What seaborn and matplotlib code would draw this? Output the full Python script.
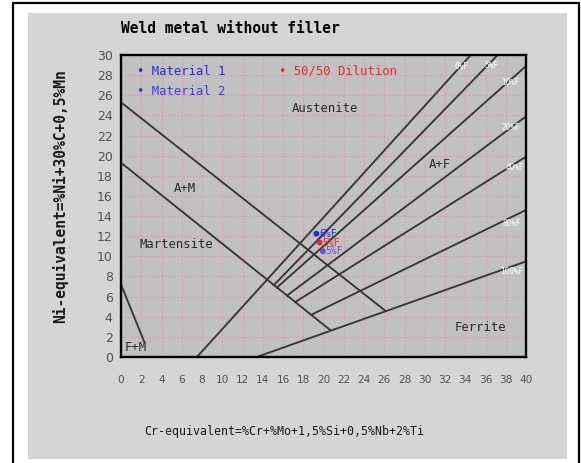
import numpy as np
import pandas as pd
import seaborn as sns
import matplotlib
matplotlib.use("Agg")
import matplotlib.pyplot as plt
from matplotlib.patches import Rectangle

# Schaeffler diagram boundaries: start / end in (Cr-eq, Ni-eq)
line_names = ["A/A+M", "A+M/M", "M/F+M", "0%F", "5%F", "10%F", "20%F", "40%F", "80%F", "100%F"]
cr_start = [0, 0, 0, 7.5, 15.1, 15.4, 16.4, 17.2, 18.8, 13.4]
ni_start = [25.3, 19.3, 7.2, 0, 7.15, 6.9, 6.1, 5.45, 4.2, 0]
cr_end = [26.1, 20.7, 2.3, 34.55, 37.2, 40, 40, 40, 40, 40]
ni_end = [4.6, 2.65, 1.5, 30, 30, 28.9, 23.9, 19.9, 14.6, 9.5]

# ferrite % labels at the upper ends of the fan lines
pct_labels = ["0%F", "5%F", "10%F", "20%F", "40%F", "80%F", "100%F"]
pct_x = [33.6, 36.6, 38.5, 38.5, 38.9, 38.6, 38.6]
pct_y = [28.9, 29.0, 27.3, 22.8, 18.8, 13.3, 8.5]

region_names = ["Austenite", "A+M", "Martensite", "A+F", "Ferrite", "F+M"]
region_x = [20.1, 6.3, 5.5, 31.5, 35.5, 1.5]
region_y = [24.7, 16.7, 11.2, 19.1, 2.9, 0.9]

# base materials and the 50/50 dilution
point_names = ["Material 1", "Material 2", "50/50 Dilution"]
point_cr = [19.3, 19.95, 19.63]
point_ni = [12.25, 10.5, 11.37]
point_ferrite = ["6%F", "5%F", "5%F"]
point_colors = ["#2a2ae0", "#6a4ee6", "#e62a2a"]
legend_colors = ["#2a2ae0", "#3c3ce4", "#e62a2a"]
legend_x = [1.6, 1.6, 15.6]
legend_y = [28.4, 26.4, 28.4]

x_ticks = list(range(0, 41, 2))
y_ticks = list(range(0, 31, 2))

W, H = 581, 463
fig = plt.figure(figsize=(W / 100, H / 100), dpi=100)
fig.patch.set_facecolor("white")

# outer frame and grey panel, kept behind the axes
fig.patches.append(Rectangle((13 / W, 1 - 475 / H), 566 / W, 472 / H, transform=fig.transFigure,
                             fill=False, edgecolor="black", linewidth=1.6, zorder=-10))
fig.patches.append(Rectangle((28 / W, 1 - 459 / H), 539 / W, 446 / H, transform=fig.transFigure,
                             facecolor="#d5d5d5", edgecolor="none", zorder=-10))

ax = fig.add_axes([121 / W, 1 - 357 / H, 405 / W, 302 / H])
ax.set_facecolor("#c1c1c1")

lines_df = pd.DataFrame({
    "line": line_names * 2,
    "cr": cr_start + cr_end,
    "ni": ni_start + ni_end,
})
sns.lineplot(data=lines_df, x="cr", y="ni", units="line", estimator=None, sort=False,
             color="#363636", linewidth=1.35, ax=ax)

pts_df = pd.DataFrame({"name": point_names, "cr": point_cr, "ni": point_ni})
sns.scatterplot(data=pts_df, x="cr", y="ni", hue="name", palette=point_colors,
                s=18, edgecolor="none", legend=False, ax=ax, zorder=5)

mono = "DejaVu Sans Mono"
for name, x, y, c in zip(point_names, legend_x, legend_y, legend_colors):
    ax.text(x, y, "\u2022 " + name, color=c, fontsize=8.8, family=mono, va="center", ha="left")
for lab, x, y, c in zip(point_ferrite, point_cr, point_ni, point_colors):
    ax.text(x + 0.25, y, lab, color=c, fontsize=7, family=mono, va="center", ha="left", zorder=6)
for name, x, y in zip(region_names, region_x, region_y):
    ax.text(x, y, name, color="#2a2a2a", fontsize=8.8, family=mono, va="center", ha="center")
for lab, x, y in zip(pct_labels, pct_x, pct_y):
    ax.text(x, y, lab, color="white", fontsize=5.5, family=mono, va="center", ha="center")

ax.set_xlim(0, 40)
ax.set_ylim(0, 30)
ax.set_xticks(x_ticks)
ax.set_yticks(y_ticks)
ax.grid(True, color="#e59a9a", linestyle=(0, (1, 1.5)), linewidth=0.9)
ax.set_axisbelow(True)
ax.tick_params(axis="x", length=0, pad=13, labelsize=7.6, labelcolor="#505050")
ax.tick_params(axis="y", length=0, pad=6, labelsize=9, labelcolor="#505050")
for sp in ax.spines.values():
    sp.set_color("black")
    sp.set_linewidth(1.7)

ax.set_xlabel("Cr-equivalent=%Cr+%Mo+1,5%Si+0,5%Nb+2%Ti", family=mono, fontsize=8.4, color="#1a1a1a")
ax.xaxis.set_label_coords((284 - 121) / 405, -(425 - 357) / 302)
ax.set_ylabel("Ni-equivalent=%Ni+30%C+0,5%Mn", family=mono, fontsize=10.5, fontweight="bold", color="#1a1a1a")
ax.yaxis.set_label_coords(-(121 - 68) / 405, (357 - 196) / 302)
ax.text(0.0, (357 - 28) / 302, "Weld metal without filler", transform=ax.transAxes, family=mono,
        fontsize=10.5, fontweight="bold", va="center", ha="left")

fig.savefig("out.png", dpi=100)
